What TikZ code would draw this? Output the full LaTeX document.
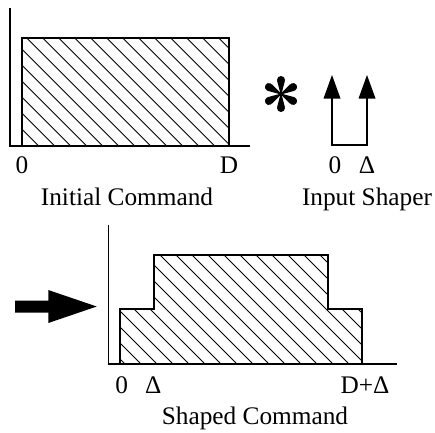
\documentclass[tikz,border=0pt]{standalone}
\usepackage{fontspec}
\setmainfont{Liberation Serif}
\newcommand{\hatchbox}[5]{% x1 y1 x2 y2 phase
 \foreach \k in {0,...,80} {
   \pgfmathsetmacro{\cc}{#5-640+16*\k}
   \pgfmathsetmacro{\xa}{max(#1,\cc+#2)}
   \pgfmathsetmacro{\xb}{min(#3,\cc+#4)}
   \pgfmathsetmacro{\ya}{\xa-\cc}
   \pgfmathsetmacro{\yb}{\xb-\cc}
   \ifdim\xa pt<\xb pt \draw[hatchline] (\xa,\ya) -- (\xb,\yb); \fi
 }}
\begin{document}
\begin{tikzpicture}[x=1pt,y=-1pt,
 axisline/.style={line width=1.3pt},
 outline/.style={line width=2pt, line join=miter},
 hatchline/.style={line width=0.9pt},
 lbl/.style={anchor=base, inner sep=0pt, font=\fontsize{25.3}{30}\selectfont},
 impulse/.style={line width=2pt},
]
\useasboundingbox (0,0) rectangle (435,432);

% ---------- Initial command ----------
\hatchbox{22}{38}{229}{146}{-11.3}
\draw[outline] (22,146) rectangle (229,38);
\draw[axisline] (10,8) -- (10,146) -- (250,146);
\node[lbl] (i0) at (22,173.5) {0};
\node[lbl] (iD) at (229,173.5) {D};
\node[lbl] (ititle) at (127,205.5) {Initial Command};

% ---------- convolution sign ----------
\begin{scope}[shift={(281,94)}]
\foreach \a in {90,30,-30,-90,-150,150}
  \fill[rotate=\a] (0,-0.45) -- (12.84,-3.83) -- (12.84,3.83) -- (0,0.45) -- cycle (14,0) circle (4);
\end{scope}

% ---------- Input shaper ----------
\coordinate (a0) at (332,145);
\coordinate (a1) at (367,145);
\coordinate (t0) at (332,95);
\coordinate (t1) at (367,95);
\draw[impulse] (t0) -- (a0) -- (a1) -- (t1);
\fill (332,75) -- (340.5,98.5) -- (323.5,98.5) -- cycle;
\fill (367,75) -- (375.5,98.5) -- (358.5,98.5) -- cycle;
\node[lbl] (s0) at (335,173.5) {0};
\node[lbl] (sD) at (367,173.5) {Δ};
\node[lbl] (stitle) at (367,205.5) {Input Shaper};

% ---------- result arrow ----------
\fill (15,300.5) -- (48.3,300.5) -- (48.3,290) -- (96.7,306.5) -- (48.3,323) -- (48.3,312.5) -- (15,312.5) -- cycle;

% ---------- Shaped command ----------
\hatchbox{154.3}{255}{328.3}{309.3}{-95}
\hatchbox{120}{309.3}{361.7}{364}{-95}
\draw[outline] (120,364) -- (120,309.3) -- (154.3,309.3) -- (154.3,255) -- (328.3,255) -- (328.3,309.3) -- (361.7,309.3) -- (361.7,364);
\draw[axisline] (108.3,225) -- (108.3,364) -- (396.7,364);
\node[lbl] (b0) at (121.7,393.5) {0};
\node[lbl] (bD) at (153.3,393.5) {Δ};
\node[lbl] (bDD) at (365,393.5) {D+Δ};
\node[lbl] (btitle) at (255,424) {Shaped Command};
\end{tikzpicture}
\end{document}
